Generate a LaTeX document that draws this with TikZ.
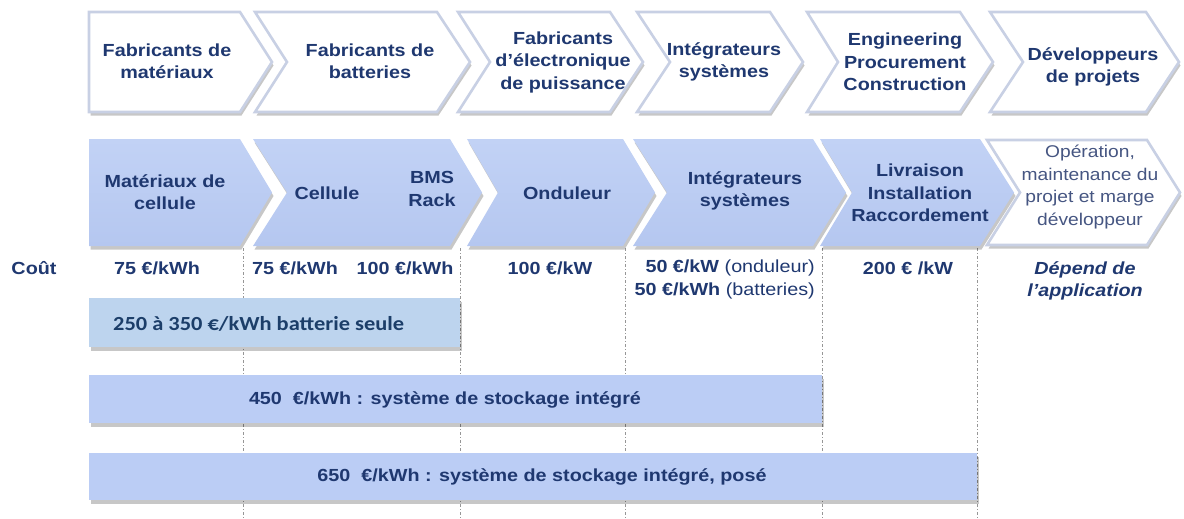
\documentclass[tikz,border=0pt]{standalone}
\usepackage{fontspec}
\setmainfont[FakeStretch=1.13]{Liberation Sans}
\newfontfamily\calfont[FakeStretch=1.12]{Carlito}
\usetikzlibrary{shadows}
\definecolor{navy}{RGB}{31,56,112}
\definecolor{greynavy}{RGB}{70,86,130}
\definecolor{chevtop}{RGB}{194,210,245}
\definecolor{chevbot}{RGB}{181,199,240}
\definecolor{barfill}{RGB}{187,205,245}
\definecolor{batfill}{RGB}{189,212,238}
\definecolor{battext}{RGB}{28,62,105}
\definecolor{rimcol}{RGB}{200,208,228}
\definecolor{dashcol}{RGB}{150,150,150}

% chevron: style, left, notch, top-right corner, tip, top, bottom
\newcommand{\chevron}[7]{%
  \path[#1] (#2,#6) -- (#4,#6) -- (#5,{(#6+#7)/2}) -- (#4,#7) -- (#2,#7)
    -- (#3,{(#6+#7)/2}) -- cycle;}

\tikzset{
  soft/.style={drop shadow={shadow xshift=1.5pt, shadow yshift=-3.5pt, fill=black, opacity=.22}},
  whitechev/.style={soft, fill=white, draw=rimcol, line width=2.6pt, line join=miter},
  bluechev/.style={soft, top color=chevtop, bottom color=chevbot},
  costbar/.style={soft, fill=barfill},
  batbar/.style={soft, fill=batfill},
  lbl/.style={align=center, text=navy, font=\fontsize{17.5}{22.5}\selectfont\bfseries, inner sep=0pt},
  thin/.style={align=center, text=greynavy, font=\fontsize{17}{22.6}\selectfont, inner sep=0pt},
  cost/.style={text=navy, font=\fontsize{17.5}{22.5}\selectfont\bfseries, inner sep=0pt},
  guide/.style={draw=dashcol, line width=0.7pt, dash pattern=on 3pt off 2pt on 1pt off 2pt}
}

\begin{document}
\begin{tikzpicture}[x=1pt, y=-1pt]
\useasboundingbox (0,0) rectangle (1184,519);

% vertical guides between the stages
\foreach \gx in {243,460,625,822,977}
  \draw[guide] (\gx,248) -- (\gx,519);

% actors of the value chain
\chevron{whitechev}{89}{89}{240}{272}{12}{112}
\chevron{whitechev}{255}{287}{437}{470}{12}{112}
\chevron{whitechev}{458}{490}{610}{643}{12}{112}
\chevron{whitechev}{637}{670}{770}{803}{12}{112}
\chevron{whitechev}{807}{838}{960}{993}{12}{112}
\chevron{whitechev}{990}{1023}{1146}{1179}{12}{112}

\node[lbl] (a1) at (167,61) {Fabricants de\\matériaux};
\node[lbl] (a2) at (370,61) {Fabricants de\\batteries};
\node[lbl] (a3) at (563,62) {Fabricants\\d'électronique\\de puissance};
\node[lbl] (a4) at (724,62) {Intégrateurs\\systèmes};
\node[lbl] (a5) at (905,62) {Engineering\\Procurement\\Construction};
\node[lbl] (a6) at (1093,67) {Développeurs\\de projets};

% cost components
\chevron{bluechev}{89}{89}{240}{272}{139}{246}
\chevron{bluechev}{253}{287}{450}{482}{139}{246}
\chevron{bluechev}{467}{498}{623}{655}{139}{246}
\chevron{bluechev}{633}{667}{813}{846}{139}{246}
\chevron{bluechev}{820}{852}{980}{1014}{139}{246}
\chevron{whitechev}{987}{1020}{1147}{1180}{140}{245}

\node[lbl] (b1) at (165,192) {Matériaux de\\cellule};
\node[lbl] (b2) at (327,193) {Cellule};
\node[lbl] (b2r) at (432,189) {BMS\\Rack};
\node[lbl] (b3) at (567,193) {Onduleur};
\node[lbl] (b4) at (745,191) {Intégrateurs\\systèmes};
\node[lbl] (b5) at (920,193) {Livraison\\Installation\\Raccordement};
\node[thin] (b6) at (1090,187) {Opération,\\maintenance du\\projet et marge\\développeur};

% unit costs
\node[cost] (cout) at (34,268) {Coût};
\node[cost] (c1) at (157,268) {75 €/kWh};
\node[cost] (c2) at (295,268) {75 €/kWh};
\node[cost] (c2r) at (405,268) {100 €/kWh};
\node[cost] (c3) at (550,268) {100 €/kW};
\node[cost, anchor=east] (c4a) at (815,268) {50 €/kW \mdseries(onduleur)};
\node[cost, anchor=east] (c4b) at (815,291) {50 €/kWh \mdseries(batteries)};
\node[cost] (c5) at (908,268) {200 € /kW};
\node[lbl, font=\fontsize{17.5}{22.5}\selectfont\bfseries\itshape] (c6) at (1085,281) {Dépend de\\l'application};

% cumulated costs
\path[batbar] (89,298) rectangle (460,347);
\node[anchor=west, inner sep=0pt, text=battext, font=\calfont\bfseries\fontsize{20}{22}\selectfont] (t1) at (113,324) {250 à 350 €/kWh batterie seule};
\path[costbar] (89,375) rectangle (822,423);
\node[cost] (t2) at (445,400) {450\ \ €/kWh : système de stockage intégré};
\path[costbar] (89,453) rectangle (977,500);
\node[cost] (t3) at (542,477) {650\ \ €/kWh : système de stockage intégré, posé};
\end{tikzpicture}
\end{document}
